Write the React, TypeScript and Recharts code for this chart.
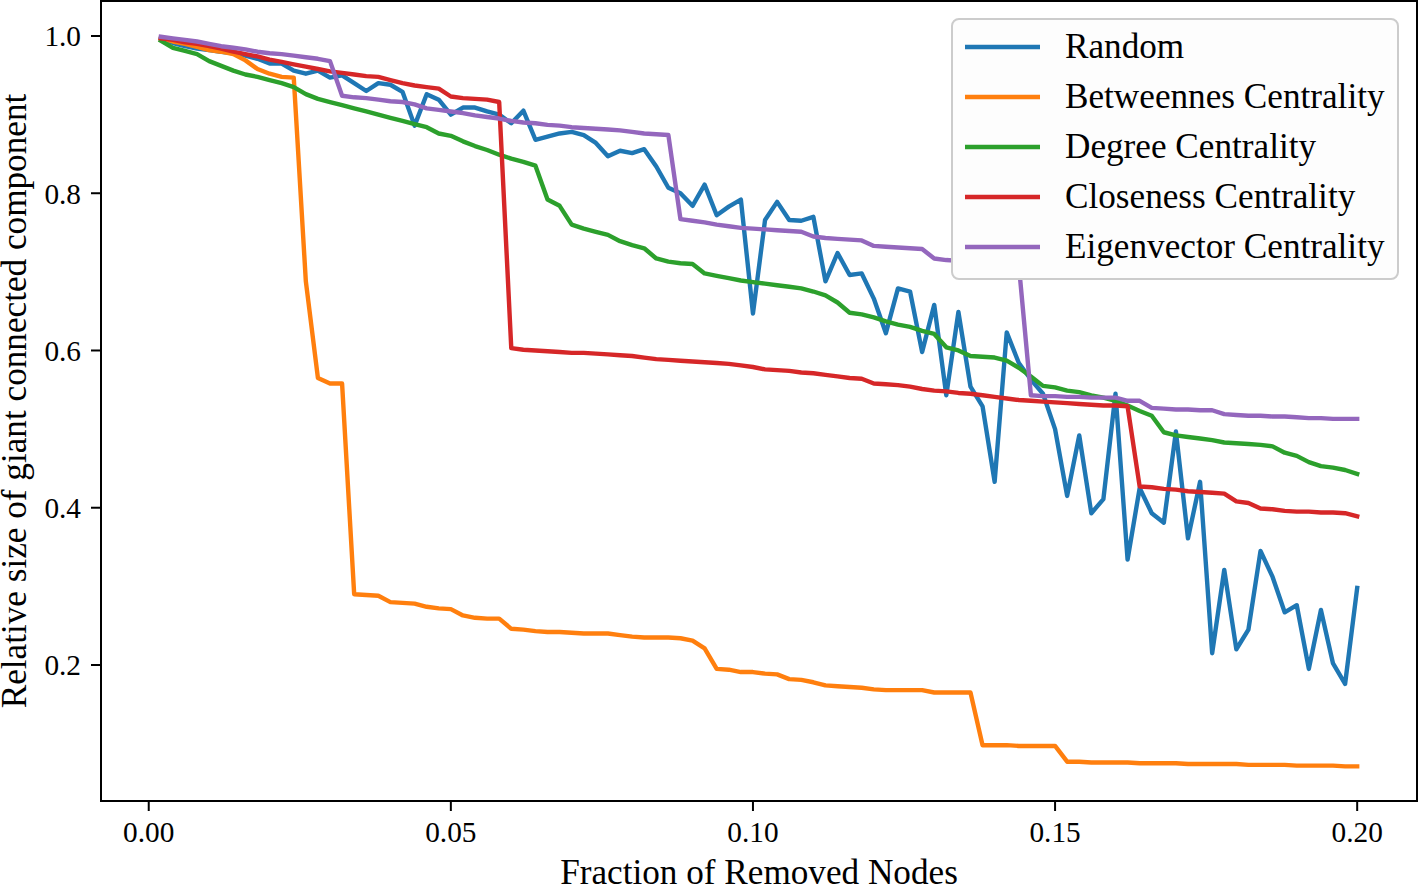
import React from 'react';
import { LineChart, Line, XAxis, YAxis, ReferenceArea } from 'recharts';

const FONT = '"Liberation Serif", "Times New Roman", "DejaVu Serif", serif';

const fractions = [
  0.002, 0.004, 0.006, 0.008, 0.010, 0.012, 0.014, 0.016, 0.018, 0.020,
  0.022, 0.024, 0.026, 0.028, 0.030, 0.032, 0.034, 0.036, 0.038, 0.040,
  0.042, 0.044, 0.046, 0.048, 0.050, 0.052, 0.054, 0.056, 0.058, 0.060,
  0.062, 0.064, 0.066, 0.068, 0.070, 0.072, 0.074, 0.076, 0.078, 0.080,
  0.082, 0.084, 0.086, 0.088, 0.090, 0.092, 0.094, 0.096, 0.098, 0.100,
  0.102, 0.104, 0.106, 0.108, 0.110, 0.112, 0.114, 0.116, 0.118, 0.120,
  0.122, 0.124, 0.126, 0.128, 0.130, 0.132, 0.134, 0.136, 0.138, 0.140,
  0.142, 0.144, 0.146, 0.148, 0.150, 0.152, 0.154, 0.156, 0.158, 0.160,
  0.162, 0.164, 0.166, 0.168, 0.170, 0.172, 0.174, 0.176, 0.178, 0.180,
  0.182, 0.184, 0.186, 0.188, 0.190, 0.192, 0.194, 0.196, 0.198, 0.200,
];

const randomValues = [
  0.997, 0.991, 0.987, 0.984, 0.982, 0.980, 0.978, 0.975, 0.971, 0.965,
  0.965, 0.956, 0.952, 0.956, 0.947, 0.950, 0.940, 0.930, 0.940, 0.938,
  0.929, 0.886, 0.926, 0.919, 0.900, 0.909, 0.909, 0.904, 0.900, 0.889,
  0.905, 0.868, 0.872, 0.876, 0.878, 0.874, 0.864, 0.847, 0.854, 0.851,
  0.856, 0.834, 0.807, 0.800, 0.784, 0.811, 0.772, 0.783, 0.792, 0.647,
  0.766, 0.789, 0.766, 0.765, 0.770, 0.688, 0.724, 0.696, 0.698, 0.666,
  0.622, 0.679, 0.675, 0.598, 0.658, 0.543, 0.649, 0.554, 0.529, 0.433,
  0.623, 0.584, 0.563, 0.545, 0.500, 0.415, 0.492, 0.393, 0.411, 0.545,
  0.334, 0.425, 0.393, 0.381, 0.497, 0.361, 0.433, 0.215, 0.321, 0.220,
  0.245, 0.345, 0.312, 0.267, 0.276, 0.195, 0.270, 0.202, 0.176, 0.298,
];

const betweennessValues = [
  0.997, 0.993, 0.990, 0.986, 0.982, 0.980, 0.977, 0.969, 0.958, 0.952,
  0.948, 0.947, 0.688, 0.565, 0.558, 0.558, 0.290, 0.289, 0.288, 0.280,
  0.279, 0.278, 0.274, 0.272, 0.271, 0.263, 0.260, 0.259, 0.259, 0.246,
  0.245, 0.243, 0.242, 0.242, 0.241, 0.240, 0.240, 0.240, 0.238, 0.236,
  0.235, 0.235, 0.235, 0.234, 0.231, 0.221, 0.195, 0.194, 0.191, 0.191,
  0.189, 0.188, 0.182, 0.181, 0.178, 0.174, 0.173, 0.172, 0.171, 0.169,
  0.168, 0.168, 0.168, 0.168, 0.165, 0.165, 0.165, 0.165, 0.098, 0.098,
  0.098, 0.097, 0.097, 0.097, 0.097, 0.077, 0.077, 0.076, 0.076, 0.076,
  0.076, 0.075, 0.075, 0.075, 0.075, 0.074, 0.074, 0.074, 0.074, 0.074,
  0.073, 0.073, 0.073, 0.073, 0.072, 0.072, 0.072, 0.072, 0.071, 0.071,
];

const degreeValues = [
  0.994, 0.985, 0.981, 0.977, 0.968, 0.962, 0.956, 0.951, 0.948, 0.944,
  0.940, 0.935, 0.926, 0.920, 0.916, 0.912, 0.908, 0.904, 0.900, 0.896,
  0.892, 0.888, 0.884, 0.876, 0.873, 0.866, 0.860, 0.855, 0.849, 0.844,
  0.840, 0.835, 0.792, 0.784, 0.760, 0.755, 0.751, 0.747, 0.739, 0.734,
  0.730, 0.717, 0.713, 0.711, 0.710, 0.698, 0.695, 0.692, 0.689, 0.687,
  0.685, 0.683, 0.681, 0.679, 0.675, 0.670, 0.661, 0.648, 0.646, 0.642,
  0.637, 0.633, 0.630, 0.625, 0.621, 0.604, 0.600, 0.593, 0.592, 0.591,
  0.587, 0.578, 0.567, 0.555, 0.553, 0.549, 0.547, 0.543, 0.540, 0.536,
  0.530, 0.523, 0.517, 0.496, 0.492, 0.490, 0.488, 0.486, 0.483, 0.482,
  0.481, 0.480, 0.478, 0.470, 0.466, 0.458, 0.453, 0.451, 0.448, 0.443,
];

const closenessValues = [
  0.997, 0.995, 0.992, 0.990, 0.987, 0.984, 0.980, 0.977, 0.974, 0.970,
  0.967, 0.964, 0.961, 0.958, 0.955, 0.953, 0.951, 0.949, 0.948, 0.944,
  0.940, 0.937, 0.935, 0.933, 0.923, 0.921, 0.920, 0.919, 0.916, 0.603,
  0.601, 0.600, 0.599, 0.598, 0.597, 0.597, 0.596, 0.595, 0.594, 0.593,
  0.591, 0.589, 0.588, 0.587, 0.586, 0.585, 0.584, 0.583, 0.581, 0.579,
  0.576, 0.575, 0.574, 0.572, 0.571, 0.569, 0.567, 0.565, 0.564, 0.558,
  0.557, 0.556, 0.554, 0.551, 0.549, 0.548, 0.546, 0.545, 0.543, 0.541,
  0.539, 0.537, 0.536, 0.535, 0.534, 0.533, 0.532, 0.531, 0.530, 0.530,
  0.529, 0.427, 0.426, 0.424, 0.423, 0.421, 0.420, 0.419, 0.418, 0.408,
  0.406, 0.399, 0.398, 0.396, 0.395, 0.395, 0.394, 0.394, 0.393, 0.389,
];

const eigenvectorValues = [
  0.999, 0.997, 0.995, 0.993, 0.990, 0.987, 0.985, 0.983, 0.980, 0.978,
  0.977, 0.975, 0.973, 0.971, 0.968, 0.924, 0.922, 0.921, 0.919, 0.917,
  0.916, 0.913, 0.908, 0.906, 0.904, 0.902, 0.899, 0.897, 0.895, 0.892,
  0.890, 0.889, 0.887, 0.886, 0.884, 0.883, 0.882, 0.881, 0.880, 0.878,
  0.876, 0.875, 0.874, 0.767, 0.765, 0.763, 0.760, 0.758, 0.756, 0.755,
  0.754, 0.753, 0.752, 0.751, 0.745, 0.743, 0.742, 0.741, 0.740, 0.733,
  0.732, 0.731, 0.730, 0.729, 0.717, 0.715, 0.714, 0.713, 0.712, 0.711,
  0.710, 0.709, 0.543, 0.542, 0.542, 0.541, 0.541, 0.540, 0.540, 0.540,
  0.536, 0.536, 0.527, 0.526, 0.525, 0.525, 0.524, 0.524, 0.519, 0.518,
  0.517, 0.517, 0.516, 0.516, 0.515, 0.514, 0.514, 0.513, 0.513, 0.513,
];

const seriesKeys = ['random', 'betweenness', 'degree', 'closeness', 'eigenvector'];
const seriesNames = [
  'Random',
  'Betweennes Centrality',
  'Degree Centrality',
  'Closeness Centrality',
  'Eigenvector Centrality',
];
const seriesColors = ['#1f77b4', '#ff7f0e', '#2ca02c', '#d62728', '#9467bd'];
const seriesValues = [randomValues, betweennessValues, degreeValues, closenessValues, eigenvectorValues];

const xTicks = [0, 0.05, 0.1, 0.15, 0.2];
const yTicks = [0.2, 0.4, 0.6, 0.8, 1.0];
const xDomain: [number, number] = [-0.0079, 0.2099];
const yDomain: [number, number] = [0.027, 1.0445];

const xLabel = 'Fraction of Removed Nodes';
const yLabel = 'Relative size of giant connected component';

const data = fractions.map((x, i) => {
  const row: Record<string, number> = { x };
  seriesKeys.forEach((k, s) => {
    row[k] = seriesValues[s][i];
  });
  return row;
});

function LegendBox() {
  return (
    <div
      style={{
        position: 'absolute',
        left: 951,
        top: 18,
        width: 448,
        height: 262,
        zIndex: 20,
        boxSizing: 'border-box',
        border: '2px solid #cccccc',
        borderRadius: 8,
        backgroundColor: '#fdfdfd',
      }}
    >
      {seriesNames.map((name, i) => (
        <div
          key={name}
          style={{
            position: 'absolute',
            left: 0,
            top: 2 + 50 * i,
            height: 50,
            display: 'flex',
            alignItems: 'center',
          }}
        >
          <svg width={112} height={50} style={{ display: 'block' }}>
            <line x1={12} x2={87} y1={25} y2={25} stroke={seriesColors[i]} strokeWidth={4.4} />
          </svg>
          <span
            style={{
              fontFamily: FONT,
              fontSize: 35.2,
              color: '#000',
              whiteSpace: 'nowrap',
              lineHeight: '50px',
            }}
          >
            {name}
          </span>
        </div>
      ))}
    </div>
  );
}

export default function App() {
  return (
    <div style={{ position: 'absolute', left: 0, top: 0, width: 1419, height: 887, background: '#fff' }}>
      <div style={{ position: 'absolute', left: 0, top: 0, zIndex: 1 }}>
        <LineChart width={1419} height={887} data={data} margin={{ top: 1, right: 2, bottom: 0, left: 0 }}>
          <ReferenceArea
            x1={xDomain[0]}
            x2={xDomain[1]}
            y1={yDomain[0]}
            y2={yDomain[1]}
            fill="none"
            fillOpacity={0}
            stroke="#000"
            strokeWidth={2}
            ifOverflow="visible"
          />
          <XAxis
            dataKey="x"
            type="number"
            domain={xDomain}
            ticks={xTicks}
            allowDataOverflow
            tickFormatter={(v: number) => v.toFixed(2)}
            height={86}
            tickSize={10}
            tickMargin={10}
            axisLine={{ stroke: '#000', strokeWidth: 2 }}
            tickLine={{ stroke: '#000', strokeWidth: 2 }}
            tick={{ fill: '#000', fontSize: 29.3, fontFamily: FONT }}
            label={{
              value: xLabel,
              position: 'insideBottom',
              offset: 3,
              fill: '#000',
              fontSize: 35.2,
              fontFamily: FONT,
            }}
          />
          <YAxis
            type="number"
            domain={yDomain}
            ticks={yTicks}
            allowDataOverflow
            tickFormatter={(v: number) => v.toFixed(1)}
            width={101}
            tickSize={10}
            tickMargin={10}
            axisLine={{ stroke: '#000', strokeWidth: 2 }}
            tickLine={{ stroke: '#000', strokeWidth: 2 }}
            tick={{ fill: '#000', fontSize: 29.3, fontFamily: FONT }}
            label={{
              value: yLabel,
              angle: -90,
              position: 'center',
              dx: -36.5,
              fill: '#000',
              fontSize: 35.2,
              fontFamily: FONT,
            }}
          />
          {seriesKeys.map((k, i) => (
            <Line
              key={k}
              type="linear"
              dataKey={k}
              name={seriesNames[i]}
              stroke={seriesColors[i]}
              strokeWidth={4.4}
              strokeLinejoin="round"
              strokeLinecap="square"
              dot={false}
              activeDot={false}
              isAnimationActive={false}
            />
          ))}
        </LineChart>
      </div>
      <LegendBox />
    </div>
  );
}
